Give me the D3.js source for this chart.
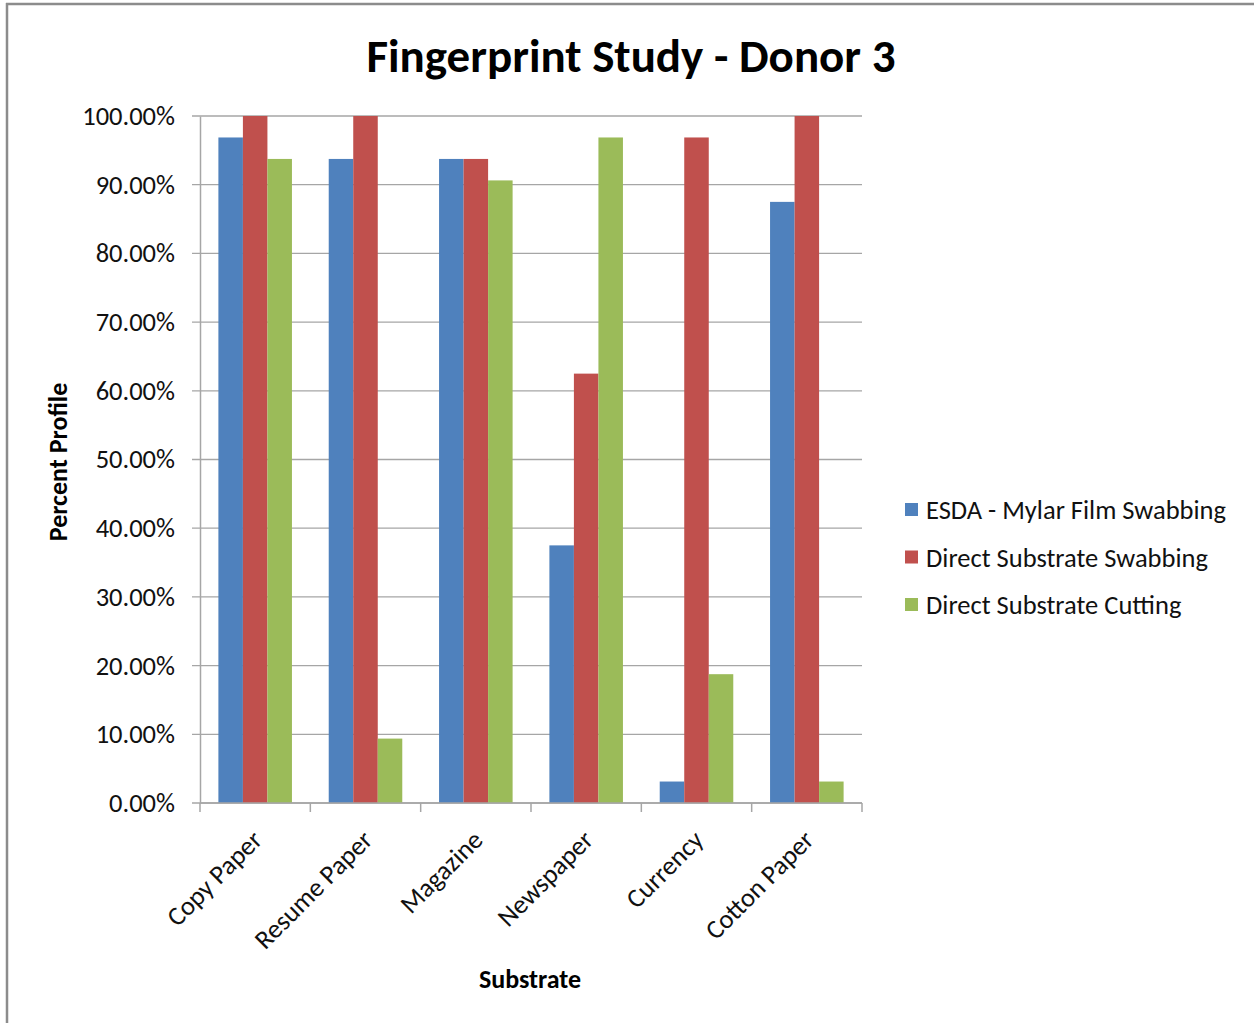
<!DOCTYPE html>
<html>
<head>
<meta charset="utf-8">
<script src="https://cdn.jsdelivr.net/npm/d3@7"></script>
<style>
  html, body { margin: 0; padding: 0; background: #fff; }
  svg { display: block; }
</style>
</head>
<body>
<div id="main"></div>
<script>
// chart data
const substrates = ["Copy Paper", "Resume Paper", "Magazine", "Newspaper", "Currency", "Cotton Paper"];
const seriesNames = ["ESDA - Mylar Film Swabbing", "Direct Substrate Swabbing", "Direct Substrate Cutting"];
const esdaMylar = [0.96875, 0.9375, 0.9375, 0.375, 0.03125, 0.875];
const directSwab = [1.0, 1.0, 0.9375, 0.625, 0.96875, 1.0];
const directCut = [0.9375, 0.09375, 0.90625, 0.96875, 0.1875, 0.03125];
const yTicks = [0, 0.1, 0.2, 0.3, 0.4, 0.5, 0.6, 0.7, 0.8, 0.9, 1.0];
const colors = ["#4f81bd", "#c0504d", "#9bbb59"];

const ctx = {
    w: 1254,
    h: 1023,
    left: 200,
    right: 862,
    top: 116,
    bottom: 803,
    font: "Carlito, Calibri, Lato, 'Open Sans', sans-serif",
};

function createViz() {
    let svgEl = d3.select("#main").append("svg")
        .attr("width", ctx.w)
        .attr("height", ctx.h);

    // outer frame (only top and left edges are visible)
    svgEl.append("line")
        .attr("x1", 6).attr("x2", ctx.w).attr("y1", 4).attr("y2", 4)
        .style("stroke", "#8c8c8c").style("stroke-width", 2.5);
    svgEl.append("line")
        .attr("x1", 7).attr("x2", 7).attr("y1", 3).attr("y2", ctx.h)
        .style("stroke", "#8c8c8c").style("stroke-width", 2.5);

    svgEl.append("text")
        .attr("x", 631).attr("y", 72)
        .attr("text-anchor", "middle")
        .style("font-family", ctx.font)
        .style("font-size", "47px")
        .style("font-weight", "bold")
        .text("Fingerprint Study - Donor 3");

    let x0 = d3.scaleBand()
        .domain(substrates)
        .range([ctx.left, ctx.right])
        .paddingInner(0)
        .paddingOuter(0);
    let bw = x0.bandwidth() / 4.5;
    let x1 = d3.scaleBand()
        .domain(d3.range(3))
        .range([0, bw * 3]);
    let y = d3.scaleLinear().domain([0, 1]).range([ctx.bottom, ctx.top]);

    let g = svgEl.append("g");

    // gridlines
    g.selectAll("line.grid")
        .data(yTicks)
        .enter()
        .append("line")
        .attr("class", "grid")
        .attr("x1", ctx.left - 8).attr("x2", ctx.right)
        .attr("y1", d => y(d)).attr("y2", d => y(d))
        .style("stroke", "#a6a6a6").style("stroke-width", 1.3);

    // bars
    let rows = substrates.map((s, i) => ({ name: s, vals: [esdaMylar[i], directSwab[i], directCut[i]] }));
    let groups = g.selectAll("g.group")
        .data(rows)
        .enter()
        .append("g")
        .attr("class", "group")
        .attr("transform", d => `translate(${x0(d.name) + bw * 0.75},0)`);
    groups.selectAll("rect")
        .data(d => d.vals.map((v, k) => ({ k: k, v: v })))
        .enter()
        .append("rect")
        .attr("x", d => x1(d.k))
        .attr("width", x1.bandwidth())
        .attr("y", d => y(d.v))
        .attr("height", d => ctx.bottom - y(d.v))
        .style("fill", d => colors[d.k]);

    // y axis
    let yAxis = d3.axisLeft(y)
        .tickValues(yTicks)
        .tickSize(0)
        .tickPadding(25)
        .tickFormat(d => (d * 100).toFixed(2) + "%");
    let yg = g.append("g")
        .attr("transform", `translate(${ctx.left},0)`)
        .call(yAxis);
    yg.select(".domain").style("stroke", "#a6a6a6").style("stroke-width", 1.5);
    yg.selectAll("text")
        .style("font-family", ctx.font)
        .style("font-size", "26.5px")
        .style("fill", "#111");

    // x axis
    let xg = g.append("g")
        .attr("transform", `translate(0,${ctx.bottom})`);
    xg.append("line")
        .attr("x1", ctx.left).attr("x2", ctx.right)
        .style("stroke", "#a6a6a6").style("stroke-width", 1.5);
    let edges = substrates.map(s => x0(s)).concat([ctx.right]);
    xg.selectAll("line.tick")
        .data(edges)
        .enter()
        .append("line")
        .attr("class", "tick")
        .attr("x1", d => d).attr("x2", d => d)
        .attr("y1", 0).attr("y2", 9)
        .style("stroke", "#a6a6a6").style("stroke-width", 1.5);
    xg.selectAll("text.cat")
        .data(substrates)
        .enter()
        .append("text")
        .attr("class", "cat")
        .attr("text-anchor", "end")
        .attr("transform", d => `translate(${x0(d) + x0.bandwidth() / 2 + 2},${32}) rotate(-45)`)
        .attr("dy", "0.35em")
        .style("font-family", ctx.font)
        .style("font-size", "26.5px")
        .style("fill", "#111")
        .text(d => d);

    // axis titles
    svgEl.append("text")
        .attr("transform", "translate(67,462) rotate(-90)")
        .attr("text-anchor", "middle")
        .style("font-family", ctx.font)
        .style("font-size", "26px")
        .style("font-weight", "bold")
        .text("Percent Profile");
    svgEl.append("text")
        .attr("x", 530).attr("y", 988)
        .attr("text-anchor", "middle")
        .style("font-family", ctx.font)
        .style("font-size", "26px")
        .style("font-weight", "bold")
        .text("Substrate");

    // legend
    let legend = svgEl.append("g").attr("transform", "translate(905,510)");
    let items = legend.selectAll("g")
        .data(seriesNames)
        .enter()
        .append("g")
        .attr("transform", (d, i) => `translate(0,${i * 47.5})`);
    items.append("rect")
        .attr("x", 0).attr("y", -7)
        .attr("width", 13).attr("height", 13)
        .style("fill", (d, i) => colors[i]);
    items.append("text")
        .attr("x", 21).attr("y", 0)
        .attr("dy", "0.35em")
        .style("font-family", ctx.font)
        .style("font-size", "26.5px")
        .style("fill", "#111")
        .text(d => d);
}

createViz();
</script>
</body>
</html>
